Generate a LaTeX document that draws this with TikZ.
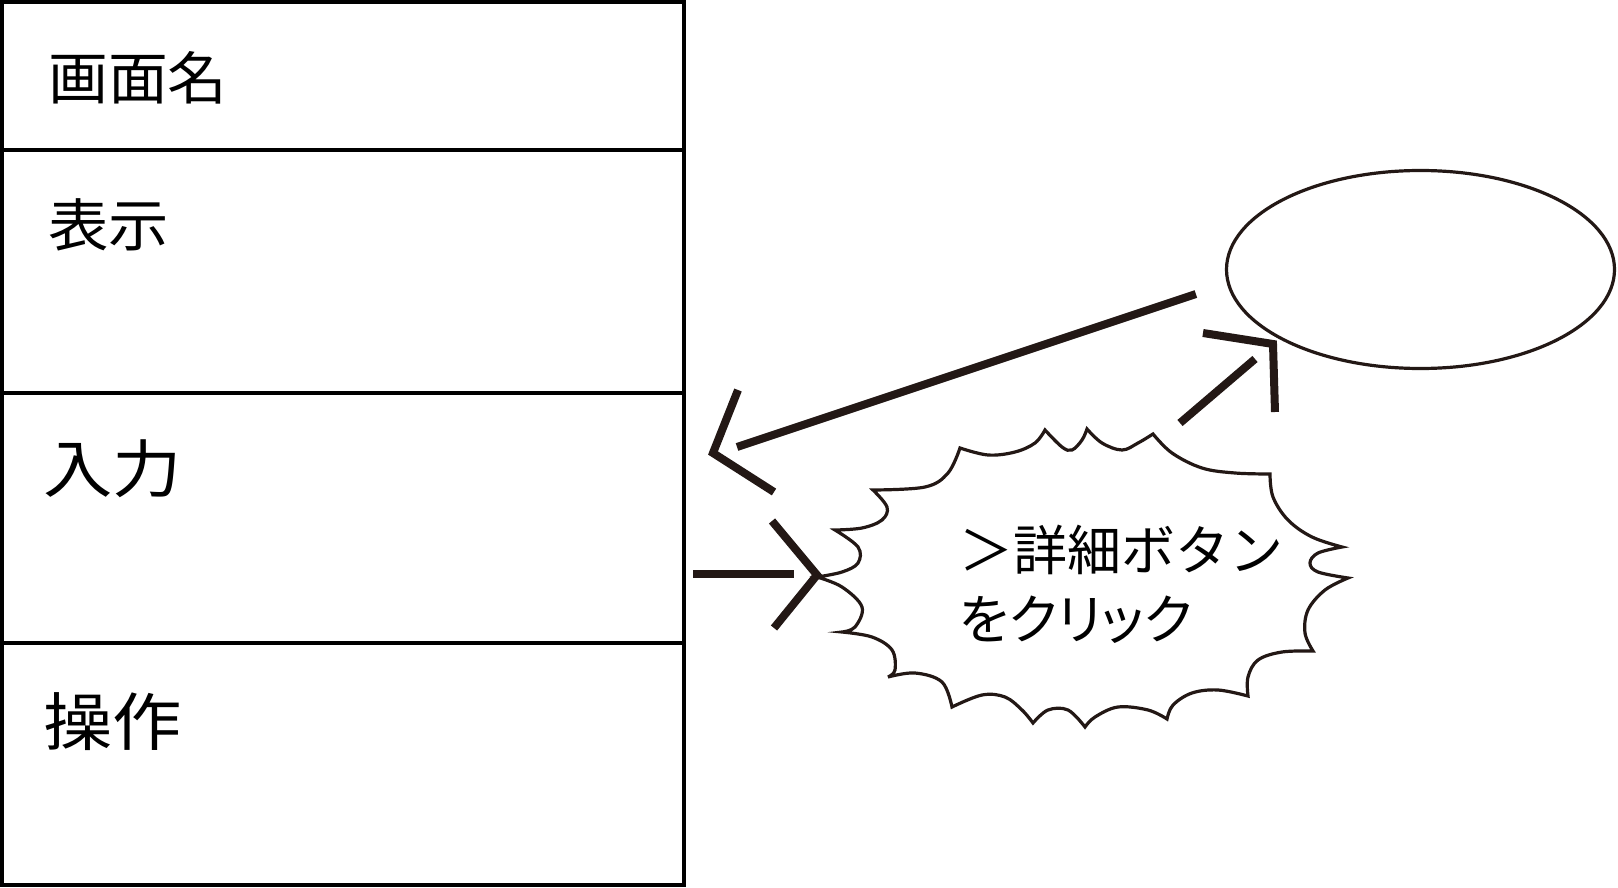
\documentclass[tikz,border=0pt]{standalone}
\usepackage{fontspec}
\setmainfont{Noto Sans CJK JP}
\usetikzlibrary{shapes.geometric,calc}
\definecolor{ink}{RGB}{35,24,21}
\begin{document}
\begin{tikzpicture}[x=1pt,y=-1pt,
  sec/.style={draw=black,line width=4pt,rectangle,inner sep=0pt,outer sep=0pt,anchor=north west,minimum width=682pt},
  lbl/.style={inner sep=0pt,anchor=north west},
  arw/.style={draw=ink,line width=8pt,line cap=butt,line join=miter},
  burst/.style={draw=ink,line width=3.2pt,line join=miter,fill=white},
  sm/.style={smooth,tension=0.6}]
\useasboundingbox (0,0) rectangle (1618,888);
\fill[white] (0,0) rectangle (1618,888);
% screen table
\node[sec,minimum height=148pt] (s1) at (2,2) {};
\node[sec,minimum height=243pt] (s2) at (2,150) {};
\node[sec,minimum height=250pt] (s3) at (2,393) {};
\node[sec,minimum height=242pt] (s4) at (2,643) {};
\node[lbl,font=\fontsize{57}{60}\selectfont\addfontfeature{FakeStretch=1.05}] (t1) at (48,51) {画面名};
\node[lbl,font=\fontsize{57}{60}\selectfont\addfontfeature{FakeStretch=1.06}] (t2) at (48,198) {表示};
\node[lbl,font=\fontsize{63}{66}\selectfont\addfontfeature{FakeStretch=1.1}] (t3) at (43,440) {入力};
\node[lbl,font=\fontsize{63}{66}\selectfont\addfontfeature{FakeStretch=1.1}] (t4) at (43,692) {操作};
% ellipse
\node[draw=ink,line width=3.2pt,ellipse,inner sep=0pt,minimum width=388pt,minimum height=198pt] (el) at (1420.5,269.5) {};
% burst
\draw[burst]
 plot[sm] coordinates {(960,448) (988,455) (1015,452) (1035,443) (1045,430)}
 -- plot[sm] coordinates {(1045,430) (1062,447) (1072,450) (1082,440) (1087,429)}
 -- plot[sm] coordinates {(1087,429) (1102,443) (1122,450) (1138,443) (1153,434)}
 -- plot[sm] coordinates {(1153,434) (1172,453) (1202,468) (1235,473) (1270,474)}
 -- plot[sm] coordinates {(1270,474) (1273,497) (1288,520) (1312,537) (1342,547)}
 -- plot[sm] coordinates {(1342,547) (1318,553) (1310,563) (1318,572) (1348,578)}
 -- plot[sm] coordinates {(1348,578) (1325,590) (1308,610) (1305,633) (1313,651)}
 -- plot[sm] coordinates {(1313,651) (1282,652) (1258,660) (1248,677) (1248,696)}
 -- plot[sm] coordinates {(1248,696) (1218,690) (1192,693) (1173,705) (1167,719)}
 -- plot[sm] coordinates {(1167,719) (1148,710) (1118,707) (1095,717) (1085,727)}
 -- plot[sm] coordinates {(1085,727) (1068,710) (1048,710) (1033,723)}
 -- plot[sm] coordinates {(1033,723) (1022,710) (1005,697) (982,695) (952,707)}
 -- plot[sm] coordinates {(952,707) (942,682) (915,673) (888,677)}
 -- plot[sm] coordinates {(888,677) (895,670) (892,650) (872,637) (842,632)}
 -- plot[sm] coordinates {(842,632) (855,627) (862,607) (842,587) (817,577)}
 -- plot[sm] coordinates {(817,577) (842,572) (858,563) (858,547) (835,530)}
 -- plot[sm] coordinates {(835,530) (862,528) (882,520) (887,507) (873,490)}
 -- plot[sm] coordinates {(873,490) (925,487) (948,473) (960,448)} -- cycle;
\node[inner sep=0pt,anchor=north west,align=left,font=\fontsize{54}{69}\selectfont] (ct) at (959,525) {＞詳細ボタン\\{\addfontfeature{RawFeature=+palt}をクリック}};
% connectors
\coordinate (a1s) at ($(s3.east)+(9,56)$);
\coordinate (a1t) at (817,575);
\draw[arw] (a1s) -- (794,574);
\draw[arw] ($(a1t)+(-45,-54)$) -- (a1t) -- ($(a1t)+(-43,53)$);
\coordinate (a2s) at ($(el.west)+(-29,24.5)$);
\coordinate (a2t) at (713,453);
\draw[arw] (a2s) -- (737,447);
\draw[arw] ($(a2t)+(25,-63)$) -- (a2t) -- ($(a2t)+(61,39)$);
\coordinate (a3s) at (1180,423);
\coordinate (a3t) at (1273,344);
\draw[arw] (a3s) -- (1255,359);
\draw[arw] ($(a3t)+(-70,-11)$) -- (a3t) -- ($(a3t)+(2,68)$);
\end{tikzpicture}
\end{document}
